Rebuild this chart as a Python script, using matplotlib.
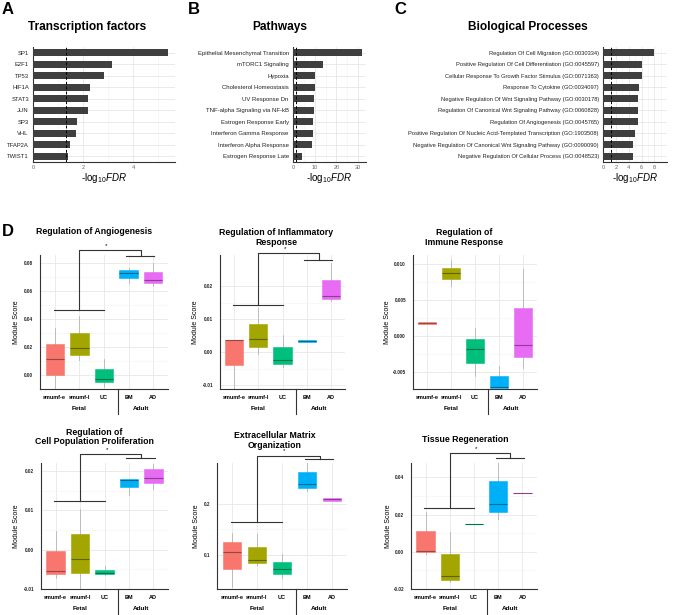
import numpy as np
import matplotlib.pyplot as plt
import matplotlib.transforms as mtransforms
from matplotlib.colors import to_rgb

plt.rcParams['font.family'] = ['Liberation Sans', 'DejaVu Sans']
plt.rcParams['mathtext.fontset'] = 'custom'
plt.rcParams['mathtext.rm'] = 'Liberation Sans'
plt.rcParams['mathtext.it'] = 'Liberation Sans:italic'

# ---- enrichment data (-log10 FDR) ----
tf_names = ['SP1', 'E2F1', 'TP53', 'HIF1A', 'STAT3', 'JUN', 'SP3', 'VHL', 'TFAP2A', 'TWIST1']
tf_vals = [5.4, 3.17, 2.84, 2.27, 2.2, 2.2, 1.77, 1.71, 1.47, 1.4]

pw_names = ['Epithelial Mesenchymal Transition', 'mTORC1 Signaling', 'Hypoxia',
            'Cholesterol Homeostasis', 'UV Response Dn', 'TNF-alpha Signaling via NF-kB',
            'Estrogen Response Early', 'Interferon Gamma Response',
            'Interferon Alpha Response', 'Estrogen Response Late']
pw_vals = [31.8, 13.8, 10.3, 10.0, 9.7, 9.7, 9.1, 9.1, 8.8, 4.0]

bp_names = ['Regulation Of Cell Migration (GO:0030334)',
            'Positive Regulation Of Cell Differentiation (GO:0045597)',
            'Cellular Response To Growth Factor Stimulus (GO:0071363)',
            'Response To Cytokine (GO:0034097)',
            'Negative Regulation Of Wnt Signaling Pathway (GO:0030178)',
            'Regulation Of Canonical Wnt Signaling Pathway (GO:0060828)',
            'Regulation Of Angiogenesis (GO:0045765)',
            'Positive Regulation Of Nucleic Acid-Templated Transcription (GO:1903508)',
            'Negative Regulation Of Canonical Wnt Signaling Pathway (GO:0090090)',
            'Negative Regulation Of Cellular Process (GO:0048523)']
bp_vals = [7.95, 6.1, 6.0, 5.55, 5.45, 5.4, 5.4, 4.9, 4.7, 4.6]

# ---- module scores: [whisker low, q1, median, q3, whisker high] ----
groups = ['smumf-e', 'smumf-l', 'UC', 'BM', 'AD']
group_colors = ['#F8766D', '#A3A500', '#00BF7D', '#00B0F6', '#E76BF3']

angiogenesis = [[-0.0090, 0.0000, 0.0112, 0.0222, 0.0334],
                [0.0107, 0.0143, 0.0191, 0.0303, 0.0418],
                [-0.0084, -0.0053, -0.0031, 0.0041, 0.0112],
                [0.0657, 0.0693, 0.0728, 0.0747, 0.0764],
                [0.0638, 0.0659, 0.0678, 0.0736, 0.0800]]
inflammatory = [[-0.0112, -0.0040, 0.0035, 0.0036, 0.0036],
                [-0.0005, 0.0016, 0.0039, 0.0085, 0.0133],
                [-0.0045, -0.0035, -0.0023, 0.0015, 0.0052],
                [0.0029, 0.0029, 0.0032, 0.0035, 0.0035],
                [0.0154, 0.0162, 0.0171, 0.0219, 0.0270]]
immune = [[0.0016, 0.0016, 0.0018, 0.0020, 0.0020],
          [0.0069, 0.0079, 0.0088, 0.0095, 0.0105],
          [-0.0056, -0.0037, -0.0018, -0.0004, 0.0011],
          [-0.0072, -0.0072, -0.0071, -0.0056, -0.0042],
          [-0.0044, -0.0029, -0.0013, 0.0039, 0.0093]]
proliferation = [[-0.0072, -0.0062, -0.0053, -0.0004, 0.0047],
                 [-0.0097, -0.0059, -0.0023, 0.0040, 0.0103],
                 [-0.0065, -0.0062, -0.0059, -0.0051, -0.0042],
                 [0.0140, 0.0159, 0.0178, 0.0180, 0.0180],
                 [0.0154, 0.0169, 0.0182, 0.0205, 0.0219]]
ecm = [[0.038, 0.072, 0.1065, 0.125, 0.144],
       [0.080, 0.085, 0.090, 0.115, 0.141],
       [0.054, 0.063, 0.0725, 0.087, 0.102],
       [0.2255, 0.232, 0.239, 0.262, 0.280],
       [0.2065, 0.2065, 0.209, 0.2125, 0.2125]]
regeneration = [[-0.0010, -0.0002, 0.0006, 0.0113, 0.0214],
                [-0.0160, -0.0151, -0.0129, -0.0012, 0.0104],
                [0.0149, 0.0149, 0.0149, 0.0149, 0.0149],
                [0.0175, 0.0214, 0.0255, 0.0379, 0.0506],
                [0.0317, 0.0317, 0.0317, 0.0317, 0.0317]]

W, H = 677, 615
fig = plt.figure(figsize=(W / 100, H / 100), dpi=100)


def px_axes(left, top, right, bottom):
    return fig.add_axes([left / W, 1 - bottom / H, (right - left) / W, (bottom - top) / H])


def fig_text(x, y, s, **kw):
    fig.text(x / W, 1 - y / H, s, **kw)


def enrich_panel(ax, names, vals, xmax, major, minor, fs):
    y = np.arange(len(names), 0, -1)
    ax.barh(y, vals, height=0.6, color='#3f3f3f', zorder=3)
    ax.axvline(-np.log10(0.05), color='black', ls=(0, (3, 2)), lw=0.7, zorder=4)
    ax.set_xlim(0, xmax)
    ax.set_ylim(0.5, len(names) + 0.5)
    ax.set_yticks(y, names)
    ax.set_xticks(major)
    ax.set_xticks(minor, minor=True)
    ax.grid(which='major', color='#e6e6e6', lw=0.6)
    ax.grid(which='minor', axis='x', color='#f2f2f2', lw=0.4)
    ax.set_axisbelow(True)
    for s in ('top', 'right'):
        ax.spines[s].set_visible(False)
    for s in ('left', 'bottom'):
        ax.spines[s].set_color('#333333')
        ax.spines[s].set_linewidth(0.8)
    ax.tick_params(axis='y', length=0, pad=3, labelsize=fs, labelcolor='#222222')
    ax.tick_params(axis='x', which='both', length=0, pad=2, labelsize=4, labelcolor='#666666')
    ax.set_xlabel('-log$_{10}$$\\mathit{FDR}$', fontsize=7, labelpad=1)


# ---- top row ----
axA = px_axes(33, 47, 175, 162)
enrich_panel(axA, tf_names, tf_vals, 5.68, [0, 2, 4], [1, 3, 5], 4.2)
axB = px_axes(293, 47, 366, 162)
enrich_panel(axB, pw_names, pw_vals, 33.6, [0, 10, 20, 30], [5, 15, 25], 4.3)
axC = px_axes(603, 47, 667, 162)
enrich_panel(axC, bp_names, bp_vals, 9.95, [0, 2, 4, 6, 8], [1, 3, 5, 7, 9], 4.15)

fig_text(87, 27, 'Transcription factors', fontsize=8.6, fontweight='bold', ha='center', va='center')
fig_text(280, 27, 'Pathways', fontsize=8.6, fontweight='bold', ha='center', va='center')
fig_text(528, 27, 'Biological Processes', fontsize=8.6, fontweight='bold', ha='center', va='center')
for letter, x, y in [('A', 8, 10), ('B', 194, 10), ('C', 400, 10), ('D', 8, 232)]:
    fig_text(x, y, letter, fontsize=12, fontweight='bold', ha='center', va='center')


# ---- module score panels ----
def module_panel(rect, data, ylim, ticks, ticklabels, bracket, ylab_x):
    left, top, right, bottom = rect
    ax = px_axes(*rect)
    hpx = bottom - top
    stats = [dict(whislo=d[0], q1=d[1], med=d[2], q3=d[3], whishi=d[4]) for d in data]
    bp = ax.bxp(stats, positions=range(1, 6), widths=0.75, patch_artist=True,
                showfliers=False, showcaps=False,
                whiskerprops=dict(color='#b5b5b5', lw=0.6),
                medianprops=dict(lw=0.8))
    for box, med, c in zip(bp['boxes'], bp['medians'], group_colors):
        box.set_facecolor(c)
        box.set_edgecolor(c)
        box.set_linewidth(0.4)
        box.set_zorder(3)
        med.set_color(tuple(np.array(to_rgb(c)) * 0.6))
        med.set_zorder(4)
    ax.set_xlim(0.4, 5.6)
    ax.set_ylim(*ylim)
    ax.set_xticks(range(1, 6), groups)
    ax.set_yticks(ticks, ticklabels)
    minors = [(a + b) / 2 for a, b in zip(ticks[:-1], ticks[1:])]
    ax.set_yticks(minors, minor=True)
    ax.grid(which='major', color='#e8e8e8', lw=0.6)
    ax.grid(which='minor', axis='y', color='#f3f3f3', lw=0.4)
    ax.set_axisbelow(True)
    for s in ('top', 'right'):
        ax.spines[s].set_visible(False)
    for s in ('left', 'bottom'):
        ax.spines[s].set_color('#333333')
        ax.spines[s].set_linewidth(0.8)
    ax.tick_params(which='both', length=0)
    ax.tick_params(axis='y', pad=5, labelsize=3.3, labelcolor='#222222')
    ax.tick_params(axis='x', pad=4.5, labelsize=4)
    for lab in ax.get_xticklabels() + ax.get_yticklabels():
        lab.set_fontweight('bold')
    ax.set_ylabel('Module Score', fontsize=5)
    ax.yaxis.set_label_coords((ylab_x - left) / (right - left), 0.5)

    tr = mtransforms.blended_transform_factory(ax.transData, ax.transAxes)
    ax.plot([3.55, 3.55], [0, -25 / hpx], transform=tr, color='#333333', lw=0.8, clip_on=False)
    ax.text(2, -19 / hpx, 'Fetal', transform=tr, ha='center', va='center',
            fontsize=4.6, fontweight='bold')
    ax.text(4.5, -19 / hpx, 'Adult', transform=tr, ha='center', va='center',
            fontsize=4.6, fontweight='bold')

    if bracket is not None:
        fy, ay, ty = bracket
        kw = dict(color='#333333', lw=0.8, clip_on=False, zorder=5)
        ax.plot([0.95, 3.0], [fy, fy], **kw)
        ax.plot([2, 2, 4.5, 4.5], [fy, ty, ty, ay], **kw)
        ax.plot([3.9, 5.05], [ay, ay], **kw)
        ax.annotate('*', xy=(3.1, ty), xytext=(0, 1.5), textcoords='offset points',
                    ha='center', va='bottom', fontsize=4.5, annotation_clip=False)
    return ax


module_panel((40, 255, 168, 389), angiogenesis, (-0.0100, 0.0857),
             [0.0, 0.02, 0.04, 0.06, 0.08], ['0.00', '0.02', '0.04', '0.06', '0.08'],
             (0.0466, 0.0853, 0.0891), 20)
module_panel((220, 255, 345, 389), inflammatory, (-0.0112, 0.0294),
             [-0.01, 0.0, 0.01, 0.02], ['-0.01', '0.00', '0.01', '0.02'],
             (0.0144, 0.0278, 0.0300), 199)
module_panel((413, 255, 537, 389), immune, (-0.00736, 0.01125),
             [-0.005, 0.0, 0.005, 0.010], ['-0.005', '0.000', '0.005', '0.010'],
             None, 391)
module_panel((41, 463, 168, 589), proliferation, (-0.0099, 0.0221),
             [-0.01, 0.0, 0.01, 0.02], ['-0.01', '0.00', '0.01', '0.02'],
             (0.0125, 0.0233, 0.0243), 20)
module_panel((217, 463, 347, 589), ecm, (0.0333, 0.2804),
             [0.1, 0.2], ['0.1', '0.2'],
             (0.164, 0.288, 0.295), 200)
module_panel((411, 463, 537, 589), regeneration, (-0.0191, 0.0477),
             [-0.02, 0.0, 0.02, 0.04], ['-0.02', '0.00', '0.02', '0.04'],
             (0.0236, 0.0506, 0.0529), 392)

tkw = dict(fontsize=6.3, fontweight='bold', ha='center', va='center', linespacing=1.1)
fig_text(94, 232, 'Regulation of Angiogenesis', **tkw)
fig_text(276, 237.5, 'Regulation of Inflammatory\nResponse', **tkw)
fig_text(464, 237.5, 'Regulation of\nImmune Response', **tkw)
fig_text(94, 437, 'Regulation of\nCell Population Proliferation', **tkw)
fig_text(275, 440.5, 'Extracellular Matrix\nOrganization', **tkw)
fig_text(465, 439, 'Tissue Regeneration', **tkw)

fig.savefig('out.png', dpi=100)
